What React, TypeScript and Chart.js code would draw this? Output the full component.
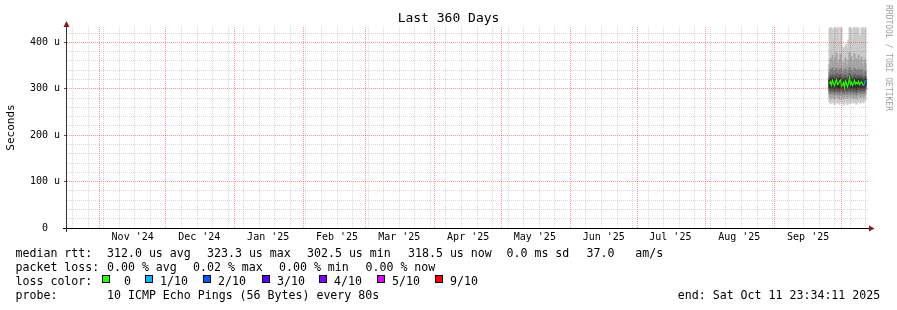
import React, { useEffect, useRef } from 'react';
import { Chart, registerables } from 'chart.js';

Chart.register(...registerables);

const MONO = '"DejaVu Sans Mono", monospace';

// x axis: days since 2024-10-01
const X_MIN = 16.45;
const X_MAX = 376.95;
const MONTH_STARTS = [31, 61, 92, 123, 151, 182, 212, 243, 273, 304, 335, 365];
const MONTH_LABELS = ["Nov '24", "Dec '24", "Jan '25", "Feb '25", "Mar '25", "Apr '25", "May '25", "Jun '25", "Jul '25", "Aug '25", "Sep '25"];
const FIRST_SUNDAY = 19;

// y axis (microseconds)
const Y_MAX = 433;
const Y_MAJOR = [0, 100, 200, 300, 400];
const Y_MINOR = [20, 40, 60, 80, 120, 140, 160, 180, 220, 240, 260, 280, 320, 340, 360, 380, 420];
const Y_LABELS = ['0  ', '100 u', '200 u', '300 u', '400 u'];

// sample times (days since 2024-10-01)
const TIMES = [359.62, 360.07, 360.52, 360.97, 361.42, 361.87, 362.32, 362.77, 363.22, 363.67, 364.12, 364.57, 365.02, 365.47, 365.92, 366.37, 366.82, 367.27, 367.72, 368.17, 368.62, 369.07, 369.52, 369.97, 370.42, 370.87, 371.32, 371.77, 372.22, 372.67, 373.12, 373.57, 374.02, 374.47, 374.92, 375.37, 375.82];

// smoke bands (us)
const B1_HI = [429, 431, 431, 427, 408, 431, 431, 430, 431, 431, 398, 431, 431, 390, 384, 388, 392, 396, 386, 405, 431, 431, 428, 400, 431, 431, 431, 429, 431, 431, 412, 415, 431, 431, 431, 426, 431];
const B1_LO = [272, 268, 274, 270, 276, 266, 271, 275, 269, 273, 267, 272, 277, 270, 265, 268, 274, 271, 266, 270, 275, 268, 272, 276, 269, 273, 270, 267, 274, 271, 276, 269, 272, 275, 270, 273, 278];
const B2_HI = [352, 365, 348, 372, 358, 345, 368, 377, 356, 350, 362, 374, 349, 343, 357, 346, 366, 352, 348, 361, 378, 355, 369, 347, 359, 375, 351, 364, 357, 372, 349, 360, 368, 353, 346, 362, 355];
const B2_LO = [283, 280, 285, 282, 287, 279, 284, 286, 281, 283, 278, 285, 288, 282, 279, 281, 286, 283, 280, 284, 287, 281, 283, 286, 280, 285, 282, 279, 286, 284, 288, 281, 283, 286, 282, 284, 289];
const B3_HI = [334, 341, 331, 345, 337, 330, 339, 344, 333, 336, 340, 343, 329, 332, 338, 331, 342, 335, 330, 337, 345, 333, 340, 331, 336, 344, 334, 339, 335, 342, 332, 338, 341, 333, 330, 337, 336];
const B3_LO = [291, 289, 293, 290, 294, 288, 292, 293, 289, 291, 287, 292, 295, 290, 288, 289, 293, 291, 288, 292, 294, 289, 291, 293, 288, 292, 290, 287, 293, 291, 295, 289, 291, 293, 290, 292, 296];
const B4_HI = [324, 328, 322, 330, 325, 321, 327, 331, 323, 325, 329, 330, 320, 322, 326, 321, 329, 324, 320, 325, 331, 322, 327, 321, 324, 330, 323, 327, 324, 329, 322, 326, 328, 323, 320, 325, 326];
const B4_LO = [297, 295, 299, 296, 300, 294, 298, 299, 295, 297, 294, 298, 301, 296, 294, 295, 299, 297, 294, 298, 300, 295, 297, 299, 294, 298, 296, 293, 299, 297, 301, 295, 297, 299, 296, 298, 302];
const B5_HI = [318, 321, 316, 323, 319, 315, 320, 324, 317, 318, 322, 323, 314, 316, 319, 315, 322, 318, 314, 319, 324, 316, 320, 315, 318, 323, 317, 320, 318, 322, 316, 319, 321, 317, 314, 318, 320];
const B5_LO = [303, 301, 305, 302, 306, 300, 304, 305, 301, 303, 300, 304, 302, 302, 300, 301, 305, 303, 300, 304, 306, 301, 303, 305, 300, 304, 302, 299, 305, 303, 307, 301, 303, 305, 302, 304, 308];
const MEDIAN = [311, 315, 308, 318, 312, 306, 314, 320, 309, 311, 316, 319, 305, 308, 313, 303, 317, 311, 304, 312, 323, 309, 314, 307, 311, 318, 310, 313, 311, 316, 309, 312, 315, 310, 306, 312, 318.5];
const LOSS = [0, 0, 0, 0, 0, 0, 0, 0, 0, 0, 0, 0, 0, 0, 0, 0, 0, 0, 0, 0, 0, 0, 0, 0, 0, 0, 0, 0, 0, 0, 0, 0, 0, 0, 0, 1, 1];

const LOSS_COLOR_BY_TENTHS = ['#26ff00', '#00b8ff', '#0059ff', '#5e00ff', '#7e00ff', '#dd00ff', '#dd00ff', '#dd00ff', '#dd00ff', '#ff0000', '#ff0000'];
const SMOKE_COLORS = ['#cacaca', '#a4a4a4', '#7e7e7e', '#585858', '#323232'];

// legend texts
const TITLE = 'Last 360 Days';
const Y_TITLE = 'Seconds';
const WATERMARK = 'RRDTOOL / TOBI OETIKER';
const RTT_LABEL = 'median rtt:';
const RTT_ITEMS = ['312.0 us avg', '323.3 us max', '302.5 us min', '318.5 us now', '0.0 ms sd', '37.0   am/s'];
const LOSS_LABEL = 'packet loss:';
const LOSS_ITEMS = ['0.00 % avg', '0.02 % max', '0.00 % min', '0.00 % now'];
const KEY_LABEL = 'loss color:';
const KEY_LABELS = [' 0', '1/10', '2/10', '3/10', '4/10', '5/10', '9/10'];
const KEY_COLORS = ['#26ff00', '#00b8ff', '#0059ff', '#5e00ff', '#7e00ff', '#dd00ff', '#ff0000'];
const PROBE_LABEL = 'probe:';
const PROBE_TEXT = '10 ICMP Echo Pings (56 Bytes) every 80s';
const END_TEXT = 'end: Sat Oct 11 23:34:11 2025';

const MAJOR = 'rgba(255,0,0,0.4)';
const MINOR = 'rgba(0,0,0,0.15)';
const NONE = 'rgba(0,0,0,0)';

function weekTicks(): { value: number }[] {
  const out: { value: number }[] = [];
  for (let d = FIRST_SUNDAY; d <= X_MAX; d += 7) {
    if (!MONTH_STARTS.includes(d)) out.push({ value: d });
  }
  return out;
}

const decorPlugin = {
  id: 'decor',
  afterDraw(chart: any) {
    const ctx = chart.ctx as CanvasRenderingContext2D;
    const { left, right, top, bottom } = chart.chartArea;
    ctx.save();
    ctx.setLineDash([]);
    // axes
    ctx.lineWidth = 1;
    ctx.strokeStyle = '#000';
    ctx.beginPath();
    ctx.moveTo(left - 4, bottom + 0.5);
    ctx.lineTo(right + 1, bottom + 0.5);
    ctx.stroke();
    ctx.strokeStyle = '#333';
    ctx.beginPath();
    ctx.moveTo(left - 0.5, bottom + 4);
    ctx.lineTo(left - 0.5, top);
    ctx.stroke();
    ctx.fillStyle = '#8b1a1a';
    ctx.beginPath();
    ctx.moveTo(right + 1, bottom - 2.5);
    ctx.lineTo(right + 6.5, bottom + 0.5);
    ctx.lineTo(right + 1, bottom + 3.5);
    ctx.closePath();
    ctx.fill();
    ctx.beginPath();
    ctx.moveTo(left - 3.5, top);
    ctx.lineTo(left - 0.5, top - 6);
    ctx.lineTo(left + 2.5, top);
    ctx.closePath();
    ctx.fill();

    // watermark
    ctx.save();
    ctx.translate(888, 5);
    ctx.rotate(Math.PI / 2);
    ctx.font = `8px ${MONO}`;
    ctx.fillStyle = '#a0a0a0';
    ctx.textAlign = 'left';
    ctx.textBaseline = 'middle';
    ctx.fillText(WATERMARK, 0, 0);
    ctx.restore();

    // legend
    ctx.font = `11.6px ${MONO}`;
    ctx.fillStyle = '#000';
    ctx.textAlign = 'left';
    ctx.textBaseline = 'alphabetic';
    const r1 = 257, r2 = 271, r3 = 285, r4 = 299;
    ctx.fillText(RTT_LABEL, 15.5, r1);
    const rttX = [107, 207, 307, 408, 506.5, 586.5];
    RTT_ITEMS.forEach((t, i) => ctx.fillText(t, rttX[i], r1));
    ctx.fillText(LOSS_LABEL, 15.5, r2);
    const lossX = [107, 193, 279, 365.5];
    LOSS_ITEMS.forEach((t, i) => ctx.fillText(t, lossX[i], r2));
    ctx.fillText(KEY_LABEL, 15.5, r3);
    const boxX = [102, 145, 203, 262, 319, 377, 435];
    KEY_LABELS.forEach((t, i) => {
      ctx.fillStyle = KEY_COLORS[i];
      ctx.fillRect(boxX[i], 275, 8, 8);
      ctx.strokeStyle = '#000';
      ctx.strokeRect(boxX[i] + 0.5, 275.5, 7, 7);
      ctx.fillStyle = '#000';
      ctx.fillText(t, boxX[i] + 15, r3);
    });
    ctx.fillText(PROBE_LABEL, 15.5, r4);
    ctx.fillText(PROBE_TEXT, 107, r4);
    ctx.fillText(END_TEXT, 677.8, r4);
    ctx.restore();
  },
};

function band(lo: number[], hi: number[], color: string, order: number) {
  return {
    type: 'bar' as const,
    data: TIMES.map((t, i) => ({ x: t, y: [lo[i], hi[i]] })),
    backgroundColor: color,
    borderWidth: 0,
    grouped: false,
    barPercentage: 1,
    categoryPercentage: 1,
    inflateAmount: 0.5,
    order,
    xAxisID: 'x',
    yAxisID: 'y',
  };
}

function gridAxis(position: string, weight: number, min: number, max: number, ticks: () => { value: number }[], color: string, z: number) {
  const horizontal = position === 'bottom';
  return {
    type: 'linear',
    position,
    weight,
    min,
    max,
    offset: false,
    ticks: { display: false, autoSkip: false },
    grid: { display: true, drawOnChartArea: true, drawTicks: false, z, lineWidth: 1, color, offset: false },
    border: { display: false, dash: [1, 1] },
    afterBuildTicks: (s: any) => {
      s.ticks = ticks();
    },
    afterFit: (s: any) => {
      if (horizontal) s.height = 0;
      else s.width = 0;
    },
  };
}

export default function App() {
  const ref = useRef<HTMLCanvasElement | null>(null);

  useEffect(() => {
    document.body.style.margin = '0';
    document.body.style.background = '#fff';
    const canvas = ref.current;
    if (!canvas) return;
    const chart = new Chart(canvas, {
      type: 'bar',
      data: {
        datasets: [
          {
            type: 'line',
            data: TIMES.map((t, i) => ({ x: t, y: MEDIAN[i] })),
            borderColor: LOSS_COLOR_BY_TENTHS[0],
            borderWidth: 1.2,
            pointRadius: 0,
            tension: 0,
            order: 0,
            xAxisID: 'x',
            yAxisID: 'y',
            segment: {
              borderColor: (c: any) => LOSS_COLOR_BY_TENTHS[LOSS[c.p1DataIndex]],
            },
          } as any,
          band(B5_LO, B5_HI, SMOKE_COLORS[4], 1),
          band(B4_LO, B4_HI, SMOKE_COLORS[3], 2),
          band(B3_LO, B3_HI, SMOKE_COLORS[2], 3),
          band(B2_LO, B2_HI, SMOKE_COLORS[1], 4),
          band(B1_LO, B1_HI, SMOKE_COLORS[0], 5),
        ] as any,
      },
      options: {
        responsive: false,
        animation: false,
        devicePixelRatio: 1,
        events: [],
        layout: { padding: 0 },
        plugins: {
          legend: { display: false },
          tooltip: { enabled: false },
          title: {
            display: true,
            text: TITLE,
            color: '#000',
            font: { family: MONO, size: 13, weight: 'normal' },
            padding: { top: 11.2, bottom: 0.2 },
          },
        },
        scales: {
          x: {
            type: 'linear',
            position: 'bottom',
            weight: 0,
            min: X_MIN,
            max: X_MAX,
            offset: false,
            grid: { display: false, drawOnChartArea: false, drawTicks: false, color: NONE, lineWidth: 0, offset: false },
            border: { display: false },
            ticks: {
              autoSkip: false,
              maxRotation: 0,
              padding: 3.5,
              color: '#000',
              font: { family: MONO, size: 10 },
              callback: (_v: any, i: number) => MONTH_LABELS[i],
            },
            afterBuildTicks: (s: any) => {
              s.ticks = MONTH_STARTS.slice(0, MONTH_LABELS.length).map(d => ({ value: d + 15 }));
            },
            afterFit: (s: any) => {
              s.height = 82;
            },
          },
          xw: gridAxis('bottom', 1, X_MIN, X_MAX, weekTicks, MINOR, 1),
          xm: gridAxis('bottom', 2, X_MIN, X_MAX, () => MONTH_STARTS.map(v => ({ value: v })), MAJOR, 2),
          y: {
            type: 'linear',
            position: 'left',
            weight: 2,
            min: 0,
            max: Y_MAX,
            grid: {
              z: 2,
              lineWidth: 1,
              color: MAJOR,
              tickLength: 3,
              tickColor: '#555',
            },
            border: { display: false, dash: [1, 1] },
            ticks: {
              autoSkip: false,
              padding: 4,
              color: '#000',
              font: { family: MONO, size: 10 },
              callback: (_v: any, i: number) => Y_LABELS[i],
            },
            title: {
              display: true,
              text: Y_TITLE,
              color: '#000',
              font: { family: MONO, size: 11 },
              padding: { top: 4.4, bottom: 0 },
            },
            afterBuildTicks: (s: any) => {
              s.ticks = Y_MAJOR.map(v => ({ value: v }));
            },
            afterFit: (s: any) => {
              s.width = 67;
            },
          },
          yn: gridAxis('left', 0, 0, Y_MAX, () => Y_MINOR.map(v => ({ value: v })), MINOR, 1),
          yr: {
            type: 'linear',
            position: 'right',
            min: 0,
            max: 1,
            grid: { display: false, drawTicks: false },
            border: { display: false },
            ticks: { display: false },
            afterFit: (s: any) => {
              s.width = 29;
            },
          },
        },
      } as any,
      plugins: [decorPlugin],
    });
    return () => chart.destroy();
  }, []);

  return (
    <canvas
      ref={ref}
      width={897}
      height={310}
      style={{ display: 'block', width: 897, height: 310 }}
    />
  );
}
